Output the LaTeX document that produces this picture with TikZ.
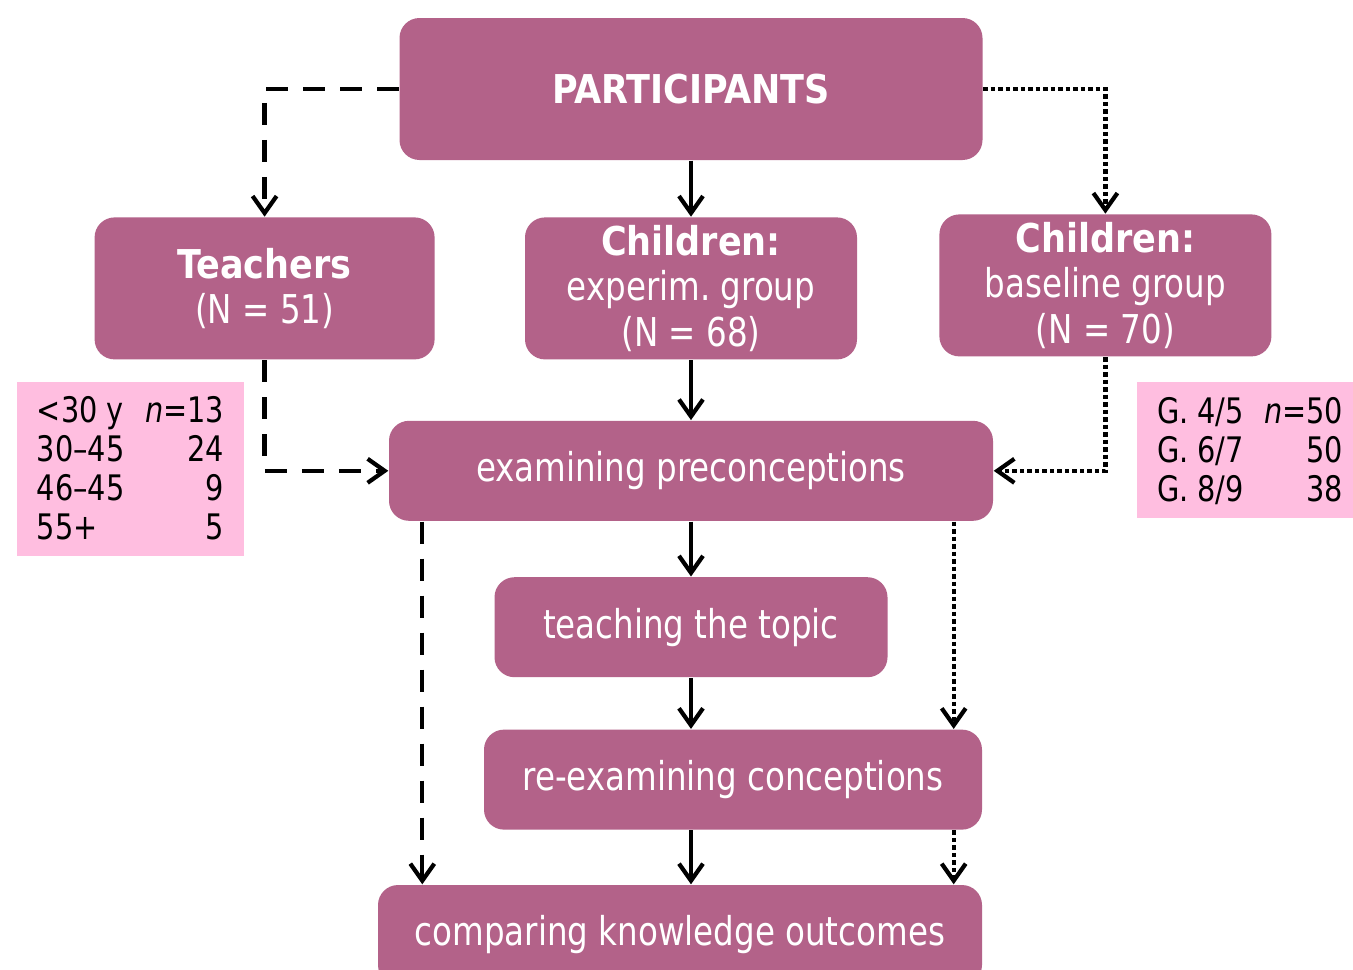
\documentclass[tikz,border=0pt]{standalone}
\usepackage{fontspec}
\setmainfont{DejaVu Sans Condensed}
\newfontfamily\boxfont[Ligatures=TeX,FakeStretch=0.91,BoldFeatures={FakeStretch=0.98}]{DejaVu Sans Condensed}
\usetikzlibrary{positioning,arrows.meta}
\definecolor{boxpurple}{RGB}{179,98,137}
\definecolor{tabpink}{RGB}{255,190,224}
\frenchspacing

\begin{document}
\begin{tikzpicture}[
  mybox/.style={fill=boxpurple,rounded corners=0.2cm,text=white,align=center,
    inner sep=0pt,font=\boxfont\fontsize{11.3}{13}\selectfont},
  mytab/.style={fill=tabpink,inner sep=0pt,font=\boxfont\fontsize{10}{11.1}\selectfont},
  myarrow/.style={line width=1.2pt,-{Straight Barb[length=1.7mm,width=2.4mm,line width=1.2pt]}},
  dashedarrow/.style={myarrow,dash pattern=on 0.22cm off 0.15cm},
  dottedarrow/.style={myarrow,dash pattern=on 0.045cm off 0.03cm}
]
\useasboundingbox[fill=white] (0,0) rectangle (13.53,-9.70);

\node[mybox,minimum width=5.83cm,minimum height=1.42cm] (part) at (6.91,-0.89) {\textbf{PARTICIPANTS}};
\node[mybox,minimum width=3.32cm,minimum height=1.42cm,below=0.56cm of part] (exper)
  {\textbf{Children:}\\experim.\ group\\(N = 68)};
\node[mybox,minimum width=3.40cm,minimum height=1.42cm,left=0.89cm of exper] (teach)
  {\textbf{Teachers}\\(N = 51)};
\node[mybox,minimum width=3.32cm,minimum height=1.42cm,right=0.81cm of exper,yshift=0.03cm] (base)
  {\textbf{Children:}\\baseline group\\(N = 70)};
\node[mybox,minimum width=6.04cm,minimum height=1.00cm,below=0.60cm of exper] (exam)
  {examining preconceptions};
\node[mybox,minimum width=3.93cm,minimum height=1.00cm,below=0.55cm of exam] (topic)
  {teaching the topic};
\node[mybox,minimum width=4.98cm,minimum height=1.00cm,below=0.51cm of topic,xshift=0.42cm] (reexam)
  {re-examining conceptions};
\node[mybox,minimum width=6.04cm,minimum height=1.00cm,below=0.54cm of reexam,xshift=-0.53cm] (comp)
  {comparing knowledge outcomes};

\node[mytab,minimum width=2.27cm,minimum height=1.74cm] (agetab) at (1.305,-4.69)
  {\begin{tabular*}{1.87cm}{@{}l@{\extracolsep{\fill}}r@{}}
    \rule{0pt}{3.6mm}<30 y & \textit{n}=13\\ 30--45 & 24\\ 46--45 & 9\\ 55+ & 5
  \end{tabular*}};
\node[mytab,minimum width=2.26cm,minimum height=1.36cm] (gradetab) at (12.50,-4.50)
  {\begin{tabular*}{1.86cm}{@{}l@{\extracolsep{\fill}}r@{}}
    \rule{0pt}{3.6mm}G. 4/5 & \textit{n}=50\\ G. 6/7 & 50\\ G. 8/9 & 38
  \end{tabular*}};

\coordinate (dl) at ([xshift=0.34cm]exam.south west);
\coordinate (dr) at ([xshift=-0.40cm]exam.south east);

\draw[dashedarrow] (part.west) -| (teach.north);
\draw[dottedarrow] (part.east) -| (base.north);
\draw[myarrow] (part) -- (exper);
\draw[dashedarrow] (teach.south) |- (exam.west);
\draw[dottedarrow] (base.south) |- (exam.east);
\draw[myarrow] (exper) -- (exam);
\draw[myarrow] (exam) -- (topic);
\draw[myarrow] (topic.south) -- (topic.south |- reexam.north);
\draw[myarrow] (topic.south |- reexam.south) -- (topic.south |- comp.north);
\draw[dashedarrow] (dl) -- (dl |- comp.north);
\draw[dottedarrow] (dr) -- (dr |- reexam.north);
\draw[dottedarrow] (dr |- reexam.south) -- (dr |- comp.north);

\end{tikzpicture}
\end{document}
